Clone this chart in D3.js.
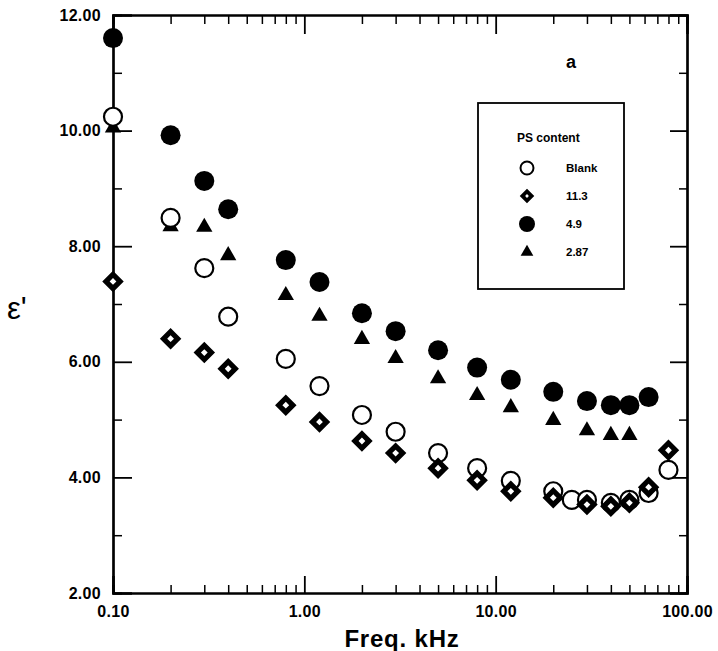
<!DOCTYPE html>
<meta charset="utf-8">
<style>
body { margin: 0; background: #fff; }
text { font-family: "Liberation Sans", Arial, sans-serif; font-weight: bold; fill: #000; }
.axis path, .axis line { stroke: #000; }
</style>
<body>
<script src="https://d3js.org/d3.v7.min.js"></script>
<script>

var width = 718,
    height = 651;

// frequency in kHz, permittivity
var freqBlank = [0.1, 0.2, 0.3, 0.4, 0.8, 1.2, 2, 3, 5, 8, 12, 20, 25, 30, 40, 50, 63, 80];
var epsBlank  = [10.24, 8.49, 7.62, 6.78, 6.05, 5.58, 5.08, 4.79, 4.42, 4.16, 3.94, 3.76, 3.61, 3.61, 3.56, 3.61, 3.73, 4.13];

var freq113 = [0.1, 0.2, 0.3, 0.4, 0.8, 1.2, 2, 3, 5, 8, 12, 20, 30, 40, 50, 63, 80];
var eps113  = [7.39, 6.40, 6.16, 5.88, 5.25, 4.96, 4.63, 4.42, 4.16, 3.95, 3.76, 3.65, 3.53, 3.50, 3.56, 3.83, 4.47];

var freq49 = [0.1, 0.2, 0.3, 0.4, 0.8, 1.2, 2, 3, 5, 8, 12, 20, 30, 40, 50, 63];
var eps49  = [11.60, 9.92, 9.13, 8.64, 7.76, 7.38, 6.84, 6.53, 6.20, 5.90, 5.69, 5.48, 5.32, 5.25, 5.25, 5.39];

var freq287 = [0.1, 0.2, 0.3, 0.4, 0.8, 1.2, 2, 3, 5, 8, 12, 20, 30, 40, 50];
var eps287  = [10.05, 8.34, 8.33, 7.84, 7.15, 6.79, 6.39, 6.06, 5.71, 5.42, 5.21, 4.99, 4.81, 4.73, 4.73];

var legendLabels = ["Blank", "11.3", "4.9", "2.87"];
var xMajor = [0.1, 1, 10, 100];
var xMajorLabels = ["0.10", "1.00", "10.00", "100.00"];
var yMajor = [2, 4, 6, 8, 10, 12];
var yMinor = [3, 5, 7, 9, 11];

var xMinor = [];
[0.1, 1, 10].forEach(function(d) {
  for (var k = 2; k <= 9; k++) xMinor.push(d * k);
});

var svg = d3.select("body").append("svg")
    .attr("width", width)
    .attr("height", height);

var x = d3.scaleLog().domain([0.1, 100]).range([113, 687]);
var y = d3.scaleLinear().domain([2, 12]).range([593, 15]);

// axes: ticks point inwards on all four sides
function axisG(axis, tx, ty, w) {
  var g = svg.append("g").attr("class", "axis")
      .attr("transform", "translate(" + tx + "," + ty + ")")
      .call(axis);
  g.selectAll("line").attr("stroke-width", w);
  g.select(".domain").attr("stroke-width", 2.2);
  g.selectAll("text")
    .style("font-size", "16px")
    .style("letter-spacing", "0.3px")
    .style("font-family", "'Liberation Sans', Arial, sans-serif")
    .style("font-weight", "bold");
  return g;
}

axisG(d3.axisBottom(x).tickValues(xMinor).tickSize(-8).tickFormat(""), 0, 593, 1.5);
axisG(d3.axisBottom(x).tickValues(xMajor).tickSize(-17).tickPadding(13)
  .tickFormat(function(d, i) { return xMajorLabels[i]; }), 0, 593, 1.8);
axisG(d3.axisTop(x).tickValues(xMinor).tickSize(-9).tickFormat(""), 0, 15, 1.5);
axisG(d3.axisTop(x).tickValues(xMajor).tickSize(-19).tickFormat(""), 0, 15, 1.8);

axisG(d3.axisLeft(y).tickValues(yMinor).tickSize(-9).tickFormat(""), 113, 0, 1.5);
axisG(d3.axisLeft(y).tickValues(yMajor).tickSize(-19).tickPadding(12)
  .tickFormat(d3.format(".2f")), 113, 0, 1.8);
axisG(d3.axisRight(y).tickValues(yMinor).tickSize(-8).tickFormat(""), 687, 0, 1.5);
axisG(d3.axisRight(y).tickValues(yMajor).tickSize(-17).tickFormat(""), 687, 0, 1.8);

// marker styles
var styles = [
  { type: d3.symbolCircle,   size: Math.PI * 81,  fill: "#fff", stroke: "#000", sw: 2.2, rot: 0 },
  { type: d3.symbolSquare,   size: 100,           fill: "#fff", stroke: "#000", sw: 5.2, rot: 45 },
  { type: d3.symbolCircle,   size: Math.PI * 100, fill: "#000", stroke: "none", sw: 0,   rot: 0 },
  { type: d3.symbolTriangle, size: 115,           fill: "#000", stroke: "none", sw: 0,   rot: 0 }
];

var series = [
  { f: freqBlank, e: epsBlank },
  { f: freq113,   e: eps113 },
  { f: freq49,    e: eps49 },
  { f: freq287,   e: eps287 }
];

// draw order: filled series first, hollow markers on top
[2, 3, 0, 1].forEach(function(si) {
  var s = series[si], st = styles[si];
  svg.append("g").selectAll("path")
    .data(d3.range(s.f.length))
    .enter().append("path")
    .attr("d", d3.symbol().type(st.type).size(st.size))
    .attr("transform", function(i) {
      return "translate(" + x(s.f[i]) + "," + y(s.e[i]) + ") rotate(" + st.rot + ")";
    })
    .attr("fill", st.fill)
    .attr("stroke", st.stroke)
    .attr("stroke-width", st.sw);
});

// axis titles
svg.append("text")
  .attr("x", 402).attr("y", 647)
  .attr("text-anchor", "middle")
  .style("font-size", "24px")
  .style("letter-spacing", "0.8px")
  .text("Freq. kHz");

svg.append("text")
  .attr("x", 7).attr("y", 319)
  .style("font-size", "31px")
  .style("font-weight", "normal")
  .text("ε'");

svg.append("text")
  .attr("x", 571).attr("y", 68)
  .attr("text-anchor", "middle")
  .style("font-size", "18px")
  .text("a");

// legend
var lg = svg.append("g");
lg.append("rect")
  .attr("x", 478).attr("y", 103)
  .attr("width", 146).attr("height", 186)
  .attr("fill", "#fff").attr("stroke", "#000").attr("stroke-width", 1.8);

lg.append("text")
  .attr("x", 517).attr("y", 142)
  .style("font-size", "12px")
  .text("PS content");

var legendStyles = [
  { type: d3.symbolCircle,   size: Math.PI * 42, fill: "#fff", stroke: "#000", sw: 2,   rot: 0 },
  { type: d3.symbolSquare,   size: 42,           fill: "#fff", stroke: "#000", sw: 3.8, rot: 45 },
  { type: d3.symbolCircle,   size: Math.PI * 64, fill: "#000", stroke: "none", sw: 0,   rot: 0 },
  { type: d3.symbolTriangle, size: 70,           fill: "#000", stroke: "none", sw: 0,   rot: 0 }
];

var rowY = d3.scalePoint().domain(legendLabels).range([168, 252]);

legendLabels.forEach(function(lab, i) {
  var st = legendStyles[i];
  lg.append("path")
    .attr("d", d3.symbol().type(st.type).size(st.size))
    .attr("transform", "translate(527," + rowY(lab) + ") rotate(" + st.rot + ")")
    .attr("fill", st.fill)
    .attr("stroke", st.stroke)
    .attr("stroke-width", st.sw);
  lg.append("text")
    .attr("x", 566).attr("y", rowY(lab) + 4)
    .style("font-size", "11.5px")
    .text(lab);
});

</script>
